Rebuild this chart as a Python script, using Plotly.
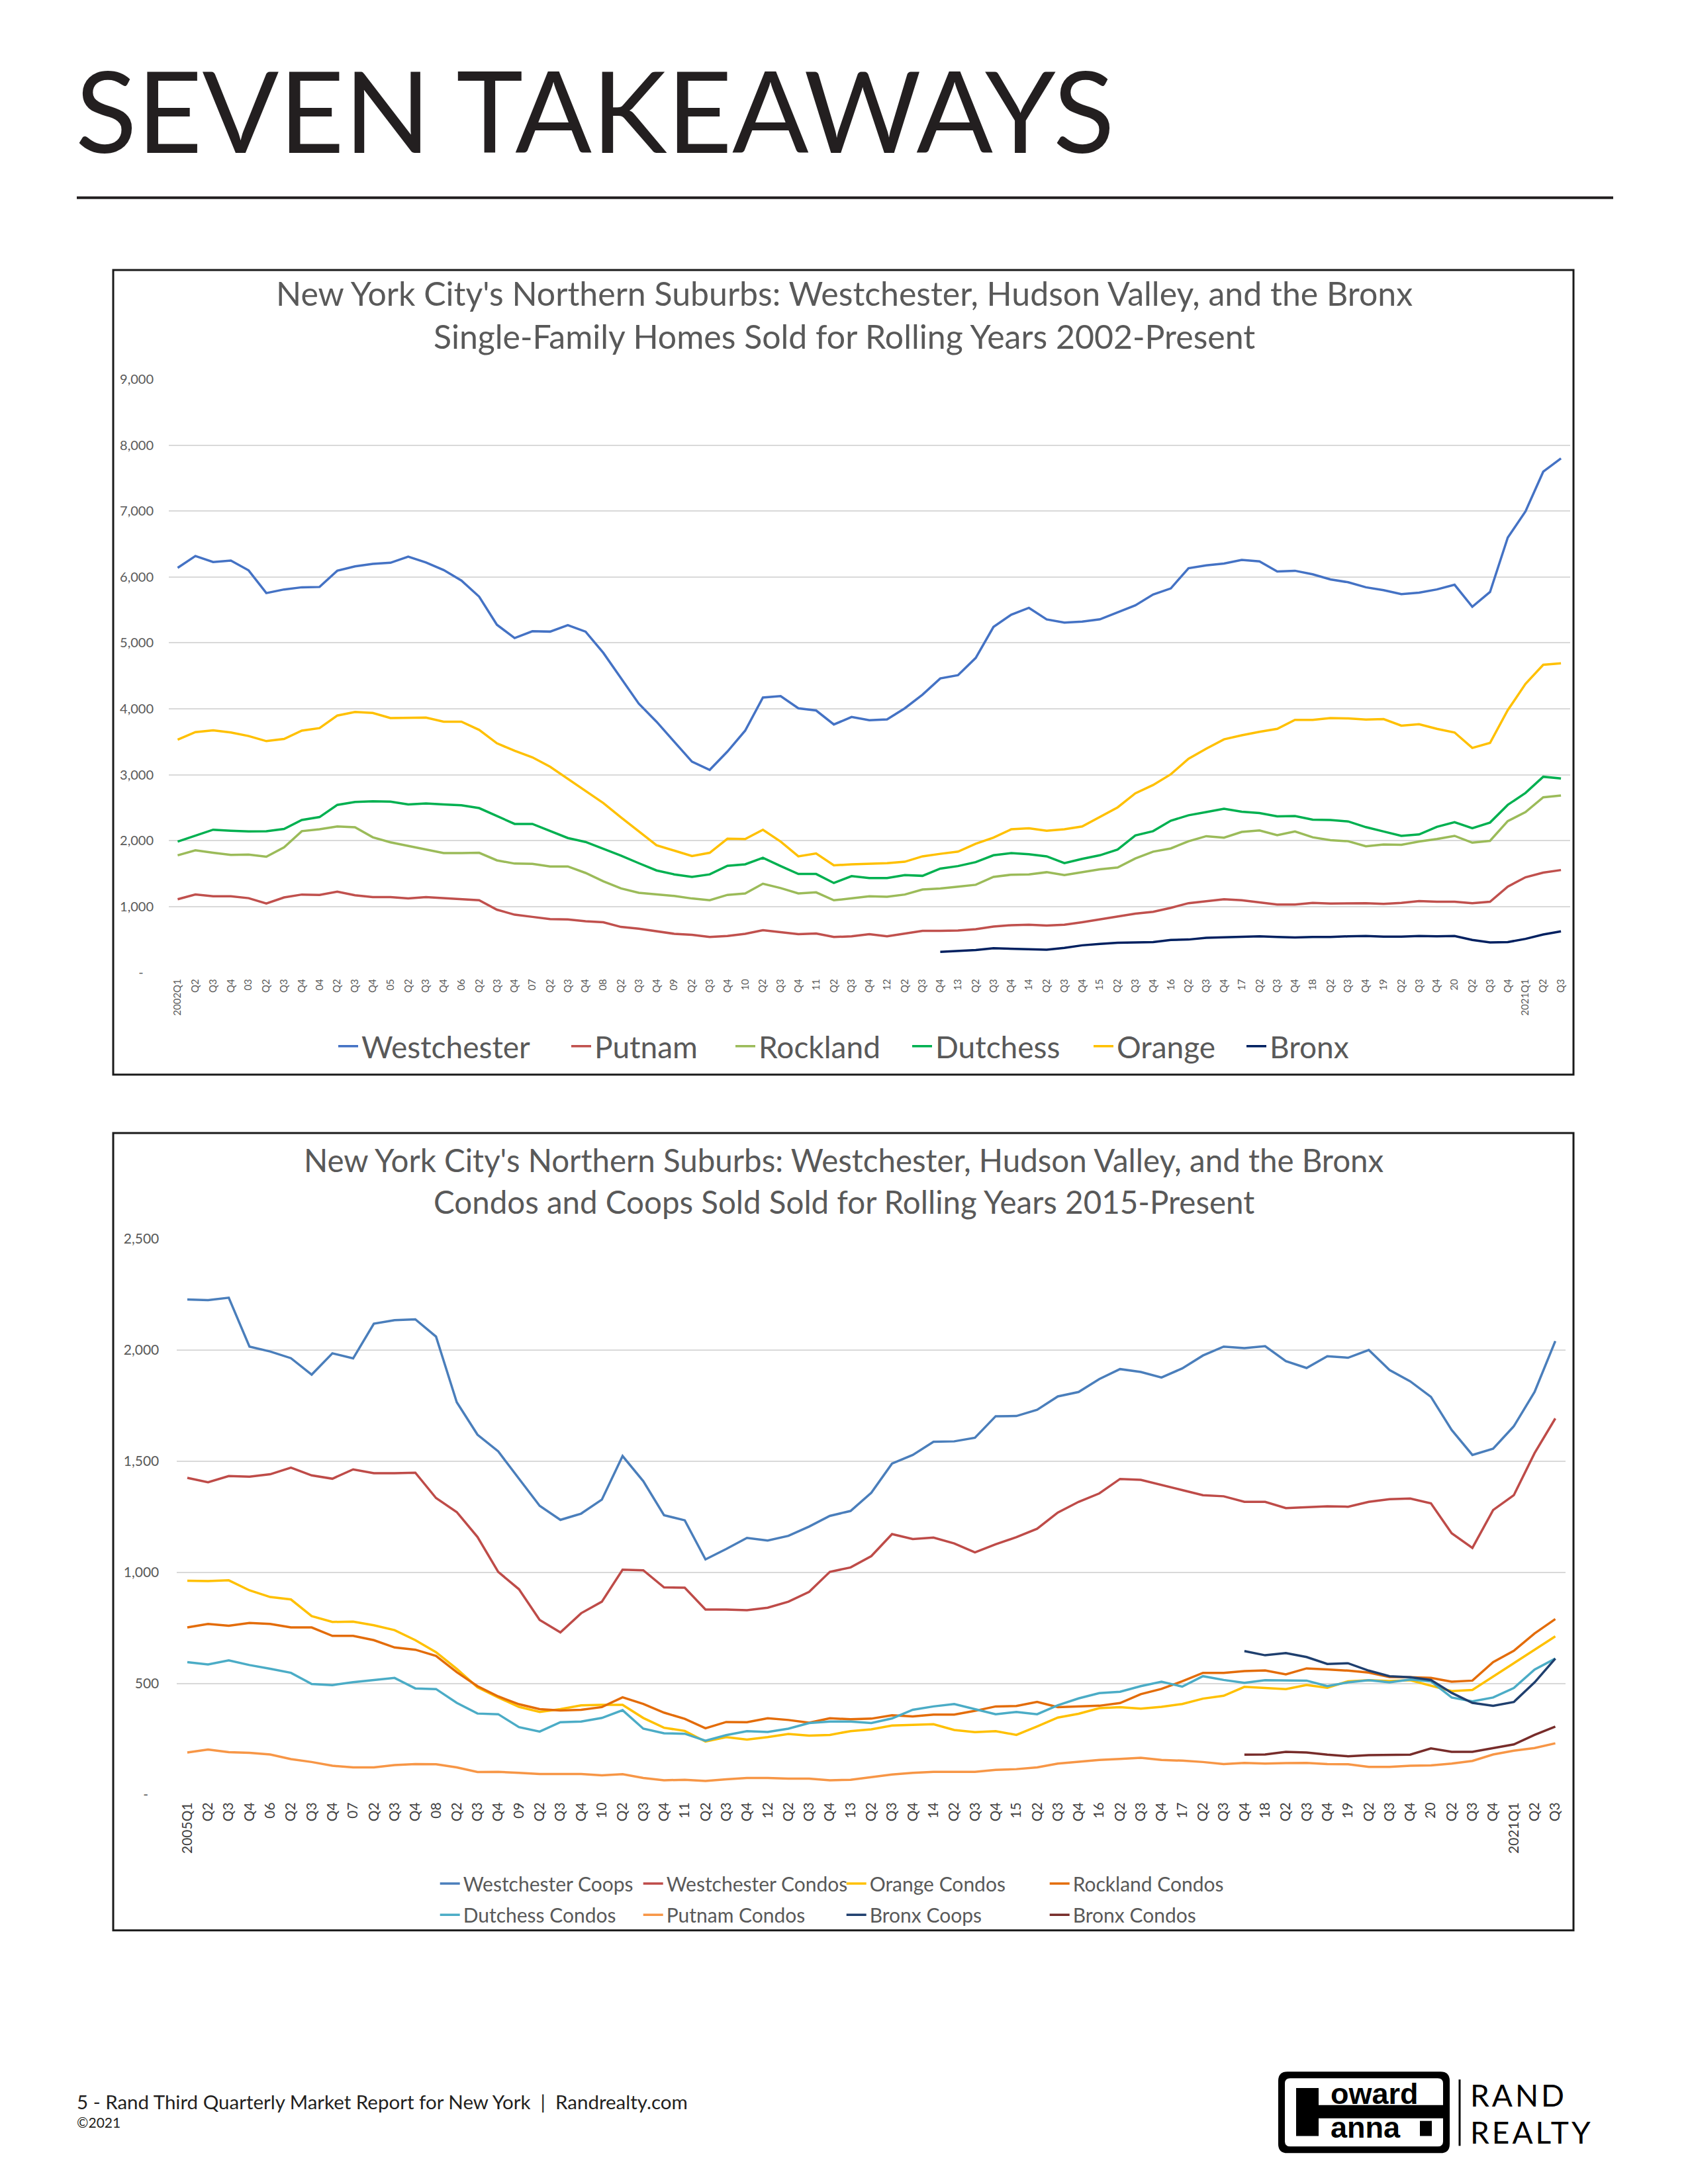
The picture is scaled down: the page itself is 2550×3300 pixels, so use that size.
import plotly.graph_objects as go

W, H = 2550, 3300

# ---------------- Chart 1: single-family homes (rolling years) ----------------
sf_labels = ("2002Q1 Q2 Q3 Q4 03 Q2 Q3 Q4 04 Q2 Q3 Q4 05 Q2 Q3 Q4 06 Q2 Q3 Q4 "
             "07 Q2 Q3 Q4 08 Q2 Q3 Q4 09 Q2 Q3 Q4 10 Q2 Q3 Q4 11 Q2 Q3 Q4 "
             "12 Q2 Q3 Q4 13 Q2 Q3 Q4 14 Q2 Q3 Q4 15 Q2 Q3 Q4 16 Q2 Q3 Q4 "
             "17 Q2 Q3 Q4 18 Q2 Q3 Q4 19 Q2 Q3 Q4 20 Q2 Q3 Q4 2021Q1 Q2 Q3").split()

westchester = [6140, 6320, 6228, 6250, 6102, 5757, 5812, 5845, 5850, 6096,
               6162, 6200, 6217, 6310, 6222, 6107, 5948, 5703, 5276, 5074,
               5178, 5172, 5271, 5172, 4850, 4461, 4079, 3805, 3499, 3198,
               3073, 3352, 3669, 4172, 4194, 4008, 3975, 3762, 3876, 3827,
               3840, 4008, 4215, 4461, 4511, 4773, 5243, 5429, 5533, 5358,
               5309, 5325, 5358, 5462, 5571, 5735, 5828, 6135, 6178, 6206,
               6260, 6238, 6085, 6096, 6042, 5965, 5921, 5845, 5801, 5741,
               5763, 5812, 5883, 5549, 5774, 6599, 6998, 7600, 7802]
putnam = [1110, 1181, 1154, 1154, 1126, 1044, 1137, 1181, 1176, 1225,
          1170, 1143, 1143, 1121, 1143, 1126, 1104, 1094, 951, 875,
          842, 809, 804, 776, 760, 689, 662, 623, 585, 569,
          536, 552, 585, 640, 612, 580, 590, 536, 547, 580,
          547, 585, 629, 629, 634, 656, 694, 716, 722, 711,
          722, 760, 804, 842, 891, 919, 979, 1050, 1083, 1110,
          1094, 1061, 1028, 1028, 1055, 1044, 1050, 1050, 1039, 1055,
          1083, 1072, 1072, 1050, 1072, 1301, 1443, 1514, 1553]
rockland = [1777, 1853, 1815, 1782, 1788, 1755, 1897, 2143, 2171, 2214,
            2203, 2050, 1974, 1919, 1859, 1810, 1810, 1815, 1700, 1651,
            1646, 1607, 1607, 1509, 1383, 1274, 1208, 1186, 1159, 1121,
            1094, 1176, 1197, 1345, 1279, 1197, 1214, 1094, 1121, 1154,
            1148, 1181, 1258, 1274, 1301, 1329, 1449, 1482, 1487, 1520,
            1476, 1520, 1564, 1591, 1728, 1832, 1881, 1990, 2067, 2045,
            2132, 2154, 2083, 2138, 2050, 2007, 1990, 1914, 1941, 1935,
            1985, 2023, 2072, 1968, 1996, 2296, 2433, 2657, 2685]
dutchess = [1985, 2078, 2165, 2149, 2138, 2143, 2176, 2313, 2357, 2542,
            2586, 2597, 2592, 2548, 2564, 2548, 2537, 2493, 2373, 2253,
            2253, 2149, 2039, 1979, 1875, 1771, 1657, 1547, 1487, 1449,
            1487, 1618, 1640, 1739, 1613, 1493, 1493, 1356, 1460, 1432,
            1432, 1476, 1465, 1575, 1613, 1673, 1777, 1810, 1793, 1761,
            1657, 1722, 1777, 1864, 2078, 2143, 2302, 2384, 2433, 2482,
            2439, 2417, 2367, 2373, 2318, 2313, 2291, 2204, 2138, 2072,
            2094, 2209, 2280, 2187, 2274, 2542, 2723, 2969, 2942]
orange = [3532, 3647, 3674, 3641, 3587, 3510, 3543, 3669, 3707, 3898,
          3953, 3937, 3860, 3866, 3866, 3805, 3805, 3680, 3477, 3363,
          3264, 3122, 2941, 2750, 2570, 2351, 2138, 1930, 1848, 1766,
          1815, 2028, 2023, 2165, 1985, 1761, 1804, 1624, 1640, 1650,
          1657, 1679, 1761, 1799, 1832, 1952, 2045, 2171, 2187, 2149,
          2171, 2214, 2357, 2504, 2717, 2843, 3007, 3242, 3395, 3537,
          3598, 3652, 3696, 3833, 3833, 3860, 3855, 3838, 3844, 3745,
          3767, 3696, 3641, 3406, 3483, 3980, 4379, 4669, 4691]
bronx = [None] * 43 + [312, 323, 339, 366, 361, 350, 344, 372, 410, 432,
                       448, 454, 459, 492, 498, 525, 530, 536, 547, 536,
                       530, 536, 536, 547, 552, 541, 541, 552, 547, 552,
                       492, 454, 459, 508, 574, 623]

sf_ytick_vals = [0, 1000, 2000, 3000, 4000, 5000, 6000, 7000, 8000, 9000]
sf_ytick_text = ["-\u00a0\u00a0\u00a0", "1,000", "2,000", "3,000", "4,000", "5,000",
                 "6,000", "7,000", "8,000", "9,000"]

# ---------------- Chart 2: condos and coops (rolling years) ----------------
cc_labels = ("2005Q1 Q2 Q3 Q4 06 Q2 Q3 Q4 07 Q2 Q3 Q4 08 Q2 Q3 Q4 09 Q2 Q3 Q4 "
             "10 Q2 Q3 Q4 11 Q2 Q3 Q4 12 Q2 Q3 Q4 13 Q2 Q3 Q4 14 Q2 Q3 Q4 "
             "15 Q2 Q3 Q4 16 Q2 Q3 Q4 17 Q2 Q3 Q4 18 Q2 Q3 Q4 19 Q2 Q3 Q4 "
             "20 Q2 Q3 Q4 2021Q1 Q2 Q3").split()

wc_coops = [2228, 2225, 2236, 2016, 1994, 1964, 1890, 1986, 1963, 2119,
            2135, 2139, 2061, 1766, 1620, 1545, 1422, 1300, 1237, 1265,
            1328, 1524, 1411, 1258, 1235, 1059, 1106, 1156, 1144, 1165,
            1207, 1255, 1277, 1359, 1490, 1529, 1588, 1590, 1606, 1703,
            1704, 1732, 1792, 1812, 1870, 1915, 1902, 1877, 1918, 1976,
            2016, 2009, 2018, 1951, 1920, 1973, 1966, 2001, 1911, 1860,
            1790, 1641, 1529, 1557, 1658, 1812, 2041]
wc_condos = [1426, 1406, 1434, 1431, 1442, 1472, 1437, 1422, 1464, 1447,
             1447, 1449, 1335, 1272, 1160, 1003, 925, 787, 731, 817,
             869, 1013, 1010, 933, 932, 834, 834, 831, 842, 869,
             913, 1003, 1023, 1074, 1173, 1151, 1157, 1131, 1091, 1127,
             1159, 1197, 1270, 1318, 1356, 1421, 1417, 1393, 1371, 1348,
             1343, 1318, 1318, 1290, 1293, 1298, 1296, 1318, 1330, 1333,
             1311, 1177, 1111, 1281, 1348, 1537, 1693]
orange_condos = [963, 962, 965, 920, 890, 879, 804, 778, 779, 763,
                 741, 696, 642, 567, 484, 438, 396, 373, 386, 403,
                 405, 405, 346, 302, 288, 240, 260, 249, 260, 274,
                 267, 270, 287, 295, 312, 315, 318, 292, 282, 287,
                 270, 308, 348, 365, 390, 395, 388, 396, 409, 433,
                 446, 486, 482, 476, 494, 482, 511, 516, 512, 516,
                 491, 467, 472, 532, 593, 653, 713]
rockland_condos = [753, 769, 761, 773, 769, 753, 753, 715, 715, 696,
                   663, 653, 625, 552, 489, 443, 408, 386, 380, 383,
                   395, 439, 409, 370, 342, 300, 328, 327, 345, 337,
                   325, 345, 340, 343, 358, 353, 361, 361, 378, 398,
                   400, 418, 395, 398, 401, 413, 453, 477, 511, 549,
                   549, 557, 560, 542, 569, 564, 559, 550, 530, 529,
                   526, 509, 514, 597, 648, 726, 791]
dutchess_condos = [597, 587, 605, 584, 567, 549, 499, 494, 507, 517,
                   526, 479, 476, 414, 366, 363, 305, 285, 327, 330,
                   346, 381, 298, 277, 275, 244, 269, 287, 283, 298,
                   323, 330, 330, 323, 344, 383, 398, 409, 385, 363,
                   373, 363, 403, 434, 458, 464, 489, 509, 487, 534,
                   517, 504, 516, 516, 514, 489, 506, 516, 506, 519,
                   511, 438, 421, 438, 481, 564, 613]
putnam_condos = [191, 204, 192, 189, 182, 161, 148, 131, 124, 124,
                 134, 139, 138, 124, 103, 104, 99, 94, 94, 94,
                 88, 93, 76, 66, 68, 63, 70, 76, 76, 73,
                 73, 66, 68, 80, 92, 99, 104, 104, 104, 113,
                 116, 124, 141, 149, 157, 162, 167, 157, 154, 148,
                 139, 144, 141, 143, 144, 139, 138, 126, 126, 131,
                 133, 141, 153, 182, 199, 211, 232]
bronx_coops = [None] * 51 + [647, 628, 638, 620, 589, 592, 559, 534, 529, 517,
                             459, 414, 401, 418, 506, 613]
bronx_condos = [None] * 51 + [181, 182, 194, 191, 181, 174, 179, 181, 181, 209,
                              194, 194, 211, 227, 270, 307]

cc_ytick_vals = [0, 500, 1000, 1500, 2000, 2500]
cc_ytick_text = ["-\u00a0\u00a0\u00a0", "500", "1,000", "1,500", "2,000", "2,500"]


def px(x):
    return x / W


def py(y):
    return 1 - y / H


GRAY = "#595959"
INK = "#231F20"
FONT = "Lato"

fig = go.Figure()

sf_x = list(range(len(sf_labels)))
sf_series = [
    ("Westchester", westchester, "#4472C4", 307),
    ("Putnam", putnam, "#C0504D", 203),
    ("Rockland", rockland, "#9BBB59", 222),
    ("Dutchess", dutchess, "#00B050", 229),
    ("Orange", orange, "#FFC000", 186),
    ("Bronx", bronx, "#002060", 130),
]
for name, vals, color, lw in sf_series:
    fig.add_trace(go.Scatter(
        x=sf_x, y=vals, name=name, mode="lines",
        line=dict(color=color, width=3.5),
        xaxis="x", yaxis="y", legend="legend", legendwidth=lw,
        hoverinfo="skip"))

cc_x = list(range(len(cc_labels)))
cc_series = [
    ("Westchester Coops", wc_coops, "#4A7EBB", "legend2"),
    ("Westchester Condos", wc_condos, "#BE4B48", "legend2"),
    ("Orange Condos", orange_condos, "#FFC000", "legend2"),
    ("Rockland Condos", rockland_condos, "#E36C09", "legend2"),
    ("Dutchess Condos", dutchess_condos, "#4BACC6", "legend3"),
    ("Putnam Condos", putnam_condos, "#F79646", "legend3"),
    ("Bronx Coops", bronx_coops, "#1F3F6E", "legend3"),
    ("Bronx Condos", bronx_condos, "#772C2A", "legend3"),
]
for name, vals, color, leg in cc_series:
    fig.add_trace(go.Scatter(
        x=cc_x, y=vals, name=name, mode="lines",
        line=dict(color=color, width=3.5),
        xaxis="x2", yaxis="y2", legend=leg,
        hoverinfo="skip"))

axis_common = dict(showline=False, zeroline=False, ticks="", fixedrange=True)
cc_legend_common = dict(orientation="h", x=px(659.7), xanchor="left", yanchor="top",
                        font=dict(size=30, color=GRAY, family=FONT),
                        bgcolor="rgba(0,0,0,0)", itemwidth=30, traceorder="normal",
                        entrywidth=262, entrywidthmode="pixels")

fig.update_layout(
    width=W, height=H,
    margin=dict(l=0, r=0, t=0, b=0),
    paper_bgcolor="white", plot_bgcolor="white",
    font=dict(family=FONT, color=GRAY),
    xaxis=dict(domain=[px(255), px(2371.5)], range=[-0.5, len(sf_labels) - 0.5],
               tickmode="array", tickvals=sf_x, ticktext=sf_labels, tickangle=-90,
               tickfont=dict(size=15, color=GRAY), showgrid=False,
               ticklabelstandoff=6, anchor="y", **axis_common),
    yaxis=dict(domain=[py(1466.3), py(563.6)], range=[0, 9000],
               tickmode="array", tickvals=sf_ytick_vals, ticktext=sf_ytick_text,
               tickfont=dict(size=20, color=GRAY), showgrid=True,
               gridcolor="#D9D9D9", gridwidth=2, ticklabelstandoff=22,
               anchor="x", **axis_common),
    xaxis2=dict(domain=[px(267.3), px(2365.2)], range=[-0.5, len(cc_labels) - 0.5],
                tickmode="array", tickvals=cc_x, ticktext=cc_labels, tickangle=-90,
                tickfont=dict(size=21, color="#404040"), showgrid=False,
                ticklabelstandoff=6, anchor="y2", **axis_common),
    yaxis2=dict(domain=[py(2718.7), py(1872.3)], range=[0, 2500],
                tickmode="array", tickvals=cc_ytick_vals, ticktext=cc_ytick_text,
                tickfont=dict(size=21, color=GRAY), showgrid=True,
                gridcolor="#D9D9D9", gridwidth=2, ticklabelstandoff=26,
                anchor="x2", **axis_common),
    legend=dict(orientation="h", x=px(506), xanchor="left", y=py(1542), yanchor="top",
                font=dict(size=46, color=GRAY, family=FONT), bgcolor="rgba(0,0,0,0)",
                itemwidth=30, traceorder="normal"),
    legend2=dict(y=py(2827.5), **cc_legend_common),
    legend3=dict(y=py(2875), **cc_legend_common),
    showlegend=True,
)

annotations = [
    dict(text="SEVEN TAKEAWAYS", x=px(112), y=py(152), xanchor="left", yanchor="middle",
         font=dict(size=171, color=INK, family=FONT)),
    dict(text="New York City's Northern Suburbs: Westchester, Hudson Valley, and the Bronx",
         x=px(1275), y=py(432), xanchor="center", yanchor="middle",
         font=dict(size=50, color=GRAY, family=FONT)),
    dict(text="Single-Family Homes Sold for Rolling Years 2002-Present",
         x=px(1275), y=py(498), xanchor="center", yanchor="middle",
         font=dict(size=50, color=GRAY, family=FONT)),
    dict(text="New York City's Northern Suburbs: Westchester, Hudson Valley, and the Bronx",
         x=px(1275), y=py(1752), xanchor="center", yanchor="middle",
         font=dict(size=47.5, color=GRAY, family=FONT)),
    dict(text="Condos and Coops Sold Sold for Rolling Years 2015-Present",
         x=px(1275), y=py(1815), xanchor="center", yanchor="middle",
         font=dict(size=47.5, color=GRAY, family=FONT)),
    dict(text="5 - Rand Third Quarterly Market Report for New York  |  Randrealty.com",
         x=px(114), y=py(3186), xanchor="left", yanchor="middle",
         font=dict(size=29.5, color=INK, family=FONT)),
    dict(text="©2021", x=px(114), y=py(3217), xanchor="left", yanchor="middle",
         font=dict(size=21, color=INK, family=FONT)),
    # logo lettering (one text block per stacked pair)
    dict(text="<span style='font-size:45px'><b>oward</b></span><br>"
              "<span style='font-size:45px'><b>anna</b></span>",
         x=px(2008), y=py(3199), xanchor="left", yanchor="middle", align="left",
         font=dict(size=39.5, color="black", family="Liberation Sans")),
    dict(text="<span style='font-size:46px;letter-spacing:4px'>RAND</span><br>"
              "<span style='font-size:46px;letter-spacing:4px'>REALTY</span>",
         x=px(2219), y=py(3204), xanchor="left", yanchor="middle", align="left",
         font=dict(size=43, color="black", family=FONT)),
]
for a in annotations:
    a.update(xref="paper", yref="paper", showarrow=False)


def rrect(x0, y0, x1, y1, r):
    pts = [
        ("M", [(x0 + r, y0)]), ("L", [(x1 - r, y0)]), ("Q", [(x1, y0), (x1, y0 + r)]),
        ("L", [(x1, y1 - r)]), ("Q", [(x1, y1), (x1 - r, y1)]), ("L", [(x0 + r, y1)]),
        ("Q", [(x0, y1), (x0, y1 - r)]), ("L", [(x0, y0 + r)]), ("Q", [(x0, y0), (x0 + r, y0)]),
    ]
    s = ""
    for cmd, ps in pts:
        s += cmd + " ".join(f"{px(a):.6f},{py(b):.6f}" for a, b in ps) + " "
    return s + "Z"


shapes = [
    # rule under the page title
    dict(type="line", x0=px(116), x1=px(2437), y0=py(287), y1=py(287),
         line=dict(color=INK, width=4)),
    # chart frames
    dict(type="rect", x0=px(171), x1=px(2377), y0=py(397), y1=py(1622),
         line=dict(color="#1A1A1A", width=3), fillcolor="rgba(0,0,0,0)"),
    dict(type="rect", x0=px(171), x1=px(2377), y0=py(1711), y1=py(2925),
         line=dict(color="#1A1A1A", width=3), fillcolor="rgba(0,0,0,0)"),
    # logo
    dict(type="path", path=rrect(1931, 3140, 2190, 3264, 14), fillcolor="black",
         line=dict(width=0)),
    dict(type="path", path=rrect(1941, 3150, 2180, 3254, 8), fillcolor="white",
         line=dict(width=0)),
    dict(type="rect", x0=px(1958), x1=px(1992), y0=py(3165), y1=py(3238),
         fillcolor="black", line=dict(width=0)),
    dict(type="rect", x0=px(1992), x1=px(2180), y0=py(3191), y1=py(3211),
         fillcolor="black", line=dict(width=0)),
    dict(type="rect", x0=px(2145), x1=px(2163), y0=py(3215), y1=py(3238),
         fillcolor="black", line=dict(width=0)),
    dict(type="line", x0=px(2205), x1=px(2205), y0=py(3152), y1=py(3253),
         line=dict(color="black", width=3)),
]
for s in shapes:
    s.update(xref="paper", yref="paper", layer="above")

fig.update_layout(annotations=annotations, shapes=shapes)

fig.write_html("out.html", config={"displayModeBar": False},
               post_script="document.body.style.margin='0';")
